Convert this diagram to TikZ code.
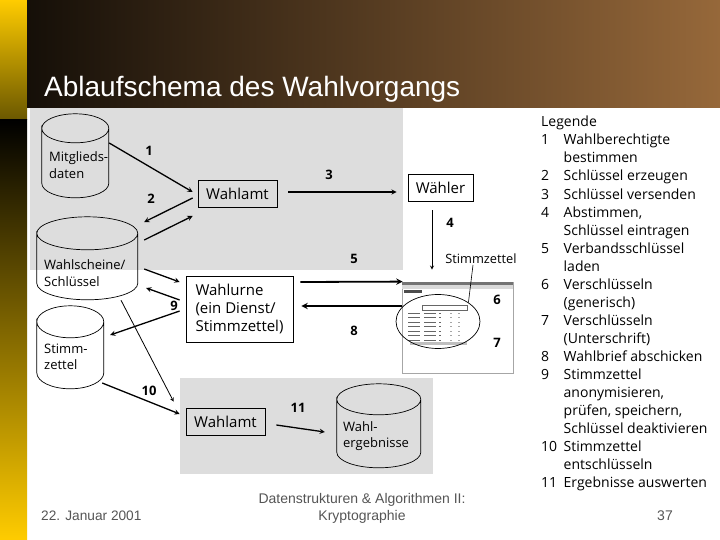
\documentclass[tikz,border=0pt]{standalone}
\usepackage{fontspec}
\setmainfont{Liberation Sans}
\newfontfamily\diagfont{Open Sans}
\usepackage{tikz}
\usetikzlibrary{shapes.geometric}
\definecolor{barYellow}{HTML}{FFCC00}
\definecolor{barMid}{HTML}{BC9800}
\definecolor{barOlive}{HTML}{6A5700}
\definecolor{headDark}{HTML}{150F08}
\definecolor{headMid}{HTML}{7A5530}
\definecolor{headBrown}{HTML}{96683A}
\definecolor{panelGray}{HTML}{DDDDDD}
\definecolor{footGray}{HTML}{555555}
\tikzset{
    store/.style={inner sep=0pt},
    storeline/.style={line width=0.7pt},
    storetext/.style={anchor=west, align=left, inner sep=0pt, font=\diagfont\fontsize{13}{16.5}\selectfont},
    box/.style={draw, line width=0.7pt, inner sep=0pt, font=\diagfont\fontsize{15}{18}\selectfont},
    flow/.style={-stealth, line width=1.3pt},
    heavyflow/.style={-stealth, line width=1.8pt},
    stepno/.style={inner sep=0pt, font=\diagfont\bfseries\fontsize{13}{15}\selectfont},
    foot/.style={inner sep=0pt, text=footGray, font=\fontsize{14}{17}\selectfont},
    rowmark/.style={black!60, line width=0.5pt},
}
% name, centre, width, height, half height of the cap
\newcommand{\Store}[5]{
    \node[store, minimum width=#3pt, minimum height=#4pt] (#1) at (#2) {};
    \draw[storeline] (#1.north west) ++(0,#5)
        arc[start angle=180, end angle=-180, x radius=#3pt/2, y radius=#5pt]
        -- ++(0,{#4-2*#5})
        arc[start angle=180, end angle=360, x radius=#3pt/2, y radius=#5pt]
        -- ++(0,{-(#4-2*#5)});
}
\begin{document}
\begin{tikzpicture}[x=1pt,y=-1pt]
    \useasboundingbox (0,0) rectangle (720,540);
    % slide background
    \shade[top color=barYellow, bottom color=barOlive] (0,0) rectangle (27,120);
    \shade[top color=black, middle color=barMid, bottom color=barYellow] (0,120) rectangle (27,540);
    \shade[left color=headDark, middle color=headMid, right color=headBrown] (27,0) rectangle (720,108);
    \fill[panelGray] (30,108) rectangle (403,270);
    \fill[panelGray] (180,378) rectangle (433,474);
    \node[anchor=west, inner sep=0pt, text=white, font=\fontsize{28}{32}\selectfont] (titel) at (44,89) {Ablaufschema des Wahlvorgangs};

    % stores
    \Store{mitglieder}{75.5,156}{67}{84}{14.5}
    \Store{wahlscheine}{87.5,258.5}{101}{83}{16.5}
    \Store{stimmen}{70.5,347.5}{67}{83}{16}
    \Store{ergebnisse}{379,426}{84}{84}{15.5}
    \node[storetext] (mitgliedertext) at (49,165) {Mitglieds-\\daten};
    \node[storetext] (wahlscheinetext) at (44,273) {Wahlscheine/\\Schlüssel};
    \node[storetext] (stimmentext) at (44,357) {Stimm-\\zettel};
    \node[storetext] (ergebnissetext) at (343,436) {Wahl-\\ergebnisse};

    % boxes
    \node[box, minimum width=79pt, minimum height=27pt] (wahlamt) at (237.5,193.5) {Wahlamt};
    \node[box, minimum width=65pt, minimum height=27pt] (waehler) at (440.5,187.5) {Wähler};
    \node[box, minimum width=107pt, minimum height=66pt, align=left] (wahlurne) at (239.5,309) {Wahlurne\\(ein Dienst/\\Stimmzettel)};
    \node[box, minimum width=79pt, minimum height=27pt] (auswertung) at (225.5,421.5) {Wahlamt};

    % screenshot of the ballot
    \node[draw=black!35, fill=white, line width=0.8pt, minimum width=111pt, minimum height=91pt, inner sep=0pt] (schirm) at (457.5,327.5) {};
    \fill[black!55] (402,282) rectangle (513,285);
    \fill[black!15] (402,285) rectangle (513,289);
    \fill[black!70] (404,290) rectangle (422,293);
    \draw[rowmark] (422,305) rectangle (467,310);
    \foreach \y in {313,317.5,322,326.5,331,335.5,340} {
        \draw[rowmark] (408,\y) -- (420,\y);
        \draw[rowmark] (424,\y) -- (436,\y);
        \draw[rowmark] (439,\y) -- (441,\y);
        \draw[rowmark, black!35] (450,\y) -- (452,\y);
        \draw[rowmark, black!35] (458,\y) -- (460,\y);
    }
    \fill[black!25] (410,342) rectangle (467,345);
    \node[draw, ellipse, line width=0.7pt, minimum width=84pt, minimum height=54pt, inner sep=0pt] (auswahl) at (438,321.5) {};
    \node[inner sep=0pt, font=\diagfont\fontsize{12.8}{15}\selectfont] (stimmlabel) at (481,259) {Stimmzettel};
    \draw[line width=0.6pt] (auswahl.32) -- ([shift={(-8,6)}]stimmlabel.center);

    % connectors
    \draw[flow] ([shift={(0,-13)}]mitglieder.east) -- ([shift={(-5,-1.5)}]wahlamt.west);
    \draw[flow] ([shift={(-5,4.5)}]wahlamt.west) -- ([shift={(6,-36.5)}]wahlscheine.east);
    \draw[flow] ([shift={(6,-18.5)}]wahlscheine.east) -- ([shift={(-5,22.5)}]wahlamt.west);
    \draw[flow] ([shift={(11,-1.5)}]wahlamt.east) -- ([shift={(-11,4.5)}]waehler.west);
    \draw[line width=0.8pt, -stealth] ([shift={(-8.5,9)}]waehler.south) -- ([shift={(-25.5,-12)}]schirm.north);
    \draw[flow] ([shift={(6,10.5)}]wahlscheine.east) -- ([shift={(-6,-27)}]wahlurne.west);
    \draw[flow] ([shift={(-6,-9)}]wahlurne.west) -- ([shift={(8,29.5)}]wahlscheine.east);
    \draw[heavyflow] ([shift={(7,-27)}]wahlurne.east) -- ([shift={(1,0)}]schirm.north west);
    \draw[heavyflow] ([shift={(0,-21.5)}]schirm.west) -- ([shift={(8,-3)}]wahlurne.east);
    \draw[flow] ([shift={(-6,2)}]wahlurne.west) -- ([shift={(6,-12.5)}]stimmen.east);
    \draw[line width=0.8pt, -stealth] ([shift={(33.5,0)}]wahlscheine.south) -- ([shift={(-12,-6)}]auswertung.north west);
    \draw[flow] ([shift={(-2,35.5)}]stimmen.east) -- ([shift={(-6,-7.5)}]auswertung.west);
    \draw[flow] ([shift={(11,3.5)}]auswertung.east) -- ([shift={(-12,6)}]ergebnisse.west);

    % step numbers
    \node[stepno] (n1) at (149,151) {1};
    \node[stepno] (n2) at (151,199) {2};
    \node[stepno] (n3) at (329,175) {3};
    \node[stepno] (n4) at (450,223) {4};
    \node[stepno] (n5) at (354,259) {5};
    \node[stepno] (n6) at (497,300) {6};
    \node[stepno] (n7) at (497,343) {7};
    \node[stepno] (n8) at (354,331) {8};
    \node[stepno] (n9) at (174,306) {9};
    \node[stepno] (n10) at (149,391) {10};
    \node[stepno] (n11) at (298,408) {11};

    % legend
    \node[anchor=north west, inner sep=0pt, font=\diagfont\fontsize{14}{18.05}\selectfont] (legende) at (541,114) {%
        \setlength{\tabcolsep}{0pt}%
        \begin{tabular}{@{}p{22.5pt}l@{}}
            \multicolumn{2}{@{}l}{Legende}\\
            1 & Wahlberechtigte\\
              & bestimmen\\
            2 & Schlüssel erzeugen\\
            3 & Schlüssel versenden\\
            4 & Abstimmen,\\
              & Schlüssel eintragen\\
            5 & Verbandsschlüssel\\
              & laden\\
            6 & Verschlüsseln\\
              & (generisch)\\
            7 & Verschlüsseln\\
              & (Unterschrift)\\
            8 & Wahlbrief abschicken\\
            9 & Stimmzettel\\
              & anonymisieren,\\
              & prüfen, speichern,\\
              & Schlüssel deaktivieren\\
            10 & Stimmzettel\\
              & entschlüsseln\\
            11 & Ergebnisse auswerten
        \end{tabular}};

    % footer
    \node[foot, anchor=west, font=\fontsize{13.7}{17}\selectfont] (datum) at (41,516) {22. Januar 2001};
    \node[foot, align=center] (fusstext) at (362,508) {Datenstrukturen \& Algorithmen II:\\Kryptographie};
    \node[foot] (seite) at (665,516) {37};
\end{tikzpicture}
\end{document}
